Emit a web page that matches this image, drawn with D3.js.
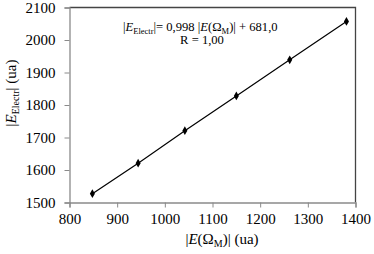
<!DOCTYPE html>
<html><head><meta charset="utf-8">
<script src="https://cdn.jsdelivr.net/npm/d3@7"></script>
<style>body{margin:0;background:#fff}svg{display:block}</style>
</head><body><svg id="c" width="374" height="254" font-family="Liberation Serif"></svg>
<script>
const xValues = [848, 944, 1042, 1150, 1262, 1381];
const yValues = [1527, 1621, 1721, 1828, 1939, 2057];
const xTicks = [800, 900, 1000, 1100, 1200, 1300, 1400];
const yTicks = [1500, 1600, 1700, 1800, 1900, 2000, 2100];

const FONT = "Liberation Serif";
const svg = d3.select("#c");
const L = 69.5, R = 355.5, T = 7.5, B = 202.5;
const x = d3.scaleLinear().domain([800, 1400]).range([L, R]);
const y = d3.scaleLinear().domain([1500, 2100]).range([B, T]);

// frame top/right
svg.append("path").attr("d", `M${L},${T}H${R}V${B}`).attr("fill", "none").attr("stroke", "#444").attr("stroke-width", 1.3);

const xa = svg.append("g").attr("transform", `translate(0,${B})`)
  .call(d3.axisBottom(x).tickValues(xTicks).tickSize(5).tickPadding(6).tickFormat(d3.format("d")));
const ya = svg.append("g").attr("transform", `translate(${L},0)`)
  .call(d3.axisLeft(y).tickValues(yTicks).tickSize(5).tickPadding(9).tickFormat(d3.format("d")));
[xa, ya].forEach(a => {
  a.attr("font-family", FONT).attr("font-size", 15);
  a.select(".domain").attr("stroke", "#8a8a8a").attr("stroke-width", 1.3);
  a.selectAll(".tick line").attr("stroke", "#8a8a8a");
  a.selectAll(".tick text").attr("font-family", FONT).attr("font-size", 15).attr("fill", "#000");
});

const pts = xValues.map((v, i) => [v, yValues[i]]);
svg.append("path").datum(pts)
  .attr("d", d3.line().x(d => x(d[0])).y(d => y(d[1])))
  .attr("fill", "none").attr("stroke", "#000").attr("stroke-width", 1.2);
svg.selectAll(".m").data(pts).enter().append("path")
  .attr("transform", d => `translate(${x(d[0])},${y(d[1])})`)
  .attr("d", d3.symbol(d3.symbolDiamond, 22)).attr("fill", "#000");

// equation
const eq = svg.append("text").attr("x", 123).attr("y", 31).attr("font-family", FONT).attr("font-size", 12.6);
eq.append("tspan").text("|");
eq.append("tspan").attr("font-style", "italic").text("E");
eq.append("tspan").attr("font-size", 8.5).attr("dy", 3).text("Electr");
eq.append("tspan").attr("dy", -3).text("|= 0,998 |");
eq.append("tspan").attr("font-style", "italic").text("E");
eq.append("tspan").text("(Ω");
eq.append("tspan").attr("font-size", 8.5).attr("dy", 3).text("M");
eq.append("tspan").attr("dy", -3).text(")| + 681,0");
svg.append("text").attr("x", 202).attr("y", 44).attr("font-family", FONT).attr("font-size", 12.6).attr("text-anchor", "middle").text("R = 1,00");

// x title
const xt = svg.append("text").attr("x", 222).attr("y", 244).attr("font-family", FONT).attr("font-size", 15).attr("text-anchor", "middle");
xt.append("tspan").text("|");
xt.append("tspan").attr("font-style", "italic").text("E");
xt.append("tspan").text("(Ω");
xt.append("tspan").attr("font-size", 10).attr("dy", 3).text("M");
xt.append("tspan").attr("dy", -3).text(")| (ua)");

// y title
const yt = svg.append("text").attr("transform", "translate(16,93) rotate(-90)").attr("font-family", FONT).attr("font-size", 15).attr("text-anchor", "middle");
yt.append("tspan").text("|");
yt.append("tspan").attr("font-style", "italic").text("E");
yt.append("tspan").attr("font-size", 10).attr("dy", 3).text("Electr");
yt.append("tspan").attr("dy", -3).text("| (ua)");
</script></body></html>
